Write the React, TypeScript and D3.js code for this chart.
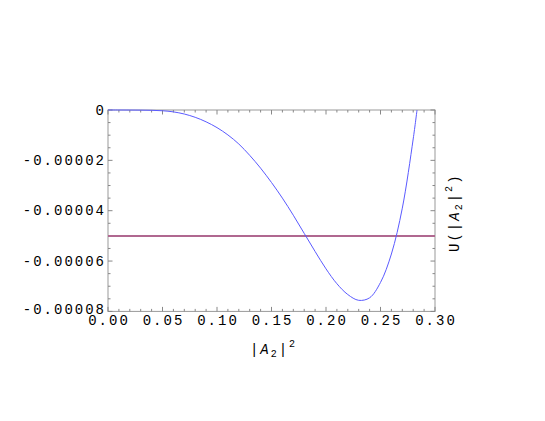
import React, { useEffect, useRef } from 'react';
import * as d3 from 'd3';

// |A2|^2 sample positions and U values
const a2 = [0, 0.01, 0.02, 0.03, 0.04, 0.05, 0.06, 0.07, 0.08, 0.09, 0.1, 0.11, 0.12, 0.13, 0.14,
  0.15, 0.16, 0.17, 0.18, 0.19, 0.2, 0.21, 0.22, 0.23, 0.24, 0.25, 0.26, 0.27, 0.28, 0.2835];
const uVals = [0, 0, -0.00000002, -0.00000005, -0.00000012, -0.0000003, -0.00000075, -0.0000016,
  -0.0000029, -0.0000047, -0.000007, -0.0000099, -0.0000135, -0.000018, -0.0000231,
  -0.0000288, -0.000035, -0.0000418, -0.000049, -0.0000562, -0.0000631, -0.000069,
  -0.0000733, -0.0000756, -0.0000746, -0.0000685, -0.0000572, -0.000039, -0.0000115, 0];
const levelValue = -0.00005;

const xTicks = [0, 0.05, 0.1, 0.15, 0.2, 0.25, 0.3];
const yTicks = [0, -0.00002, -0.00004, -0.00006, -0.00008];
const yTickLabels = ['0', '-0.00002', '-0.00004', '-0.00006', '-0.00008'];

const W = 545;
const H = 421;

const App = () => {
  const ref = useRef<SVGSVGElement>(null);

  useEffect(() => {
    const svg = d3.select(ref.current);
    svg.selectAll('*').remove();

    const left = 108, right = 435, top = 110, bottom = 311.4;
    const x = d3.scaleLinear().domain([0, 0.3]).range([left, right]);
    const y = d3.scaleLinear().domain([-0.00008, 0]).range([bottom, top]);

    const font = '"Liberation Mono", "DejaVu Sans Mono", monospace';
    const frameColor = '#999';

    // frame
    svg.append('rect')
      .attr('x', left).attr('y', top)
      .attr('width', right - left).attr('height', bottom - top)
      .attr('fill', 'none').attr('stroke', frameColor).attr('stroke-width', 1);

    // ticks, pointing inward on all four sides
    const xMinor = d3.range(0, 31).map(i => i / 100);
    const yMinor = d3.range(0, 17).map(i => -i * 0.000005);
    const tickG = svg.append('g').attr('stroke', '#888').attr('stroke-width', 1);
    xMinor.forEach((v, i) => {
      const len = i % 5 === 0 ? 4.5 : 2.5;
      tickG.append('line').attr('x1', x(v)).attr('x2', x(v)).attr('y1', bottom).attr('y2', bottom - len);
      tickG.append('line').attr('x1', x(v)).attr('x2', x(v)).attr('y1', top).attr('y2', top + len);
    });
    yMinor.forEach((v, i) => {
      const len = i % 4 === 0 ? 4.5 : 2.5;
      tickG.append('line').attr('x1', left).attr('x2', left + len).attr('y1', y(v)).attr('y2', y(v));
      tickG.append('line').attr('x1', right).attr('x2', right - len).attr('y1', y(v)).attr('y2', y(v));
    });

    // tick labels
    svg.append('g').selectAll('text').data(xTicks).enter().append('text')
      .attr('x', d => x(d) + 1)
      .attr('y', bottom + 14)
      .attr('text-anchor', 'middle')
      .attr('font-family', font).attr('font-size', 14).attr('letter-spacing', 2)
      .attr('fill', '#000')
      .text(d => d.toFixed(2));

    svg.append('g').selectAll('text').data(yTicks).enter().append('text')
      .attr('x', left - 2)
      .attr('y', (d, i) => y(d) + (i === yTicks.length - 1 ? 3 : 4.5))
      .attr('text-anchor', 'end')
      .attr('font-family', font).attr('font-size', 14).attr('letter-spacing', 2)
      .attr('fill', '#000')
      .text((d, i) => yTickLabels[i]);

    // plot contents, clipped to the frame
    svg.append('clipPath').attr('id', 'plotClip').append('rect')
      .attr('x', left).attr('y', top - 1).attr('width', right - left).attr('height', bottom - top + 2);
    const plot = svg.append('g').attr('clip-path', 'url(#plotClip)');

    plot.append('line')
      .attr('x1', left).attr('x2', right)
      .attr('y1', y(levelValue)).attr('y2', y(levelValue))
      .attr('stroke', '#b06890').attr('stroke-width', 2);

    const pts: [number, number][] = a2.map((v, i) => [v, uVals[i]]);
    const line = d3.line<[number, number]>()
      .x(d => x(d[0]))
      .y(d => y(d[1]))
      .curve(d3.curveCatmullRom.alpha(0.5));
    plot.append('path')
      .attr('d', line(pts))
      .attr('fill', 'none')
      .attr('stroke', '#5a5aff')
      .attr('stroke-width', 1);

    // x axis title |A2|^2
    const xt = svg.append('text')
      .attr('x', (left + right) / 2 + 2)
      .attr('y', 354)
      .attr('text-anchor', 'middle')
      .attr('font-family', font).attr('font-size', 14).attr('letter-spacing', 2)
      .attr('fill', '#000');
    xt.append('tspan').text('|');
    xt.append('tspan').attr('font-style', 'italic').text('A');
    xt.append('tspan').attr('font-size', 10).attr('dy', 3).text('2');
    xt.append('tspan').attr('dy', -3).text('|');
    xt.append('tspan').attr('font-size', 10).attr('dy', -7).text('2');

    // right axis title U(|A2|^2)
    const yt = svg.append('text')
      .attr('transform', `translate(459,${(top + bottom) / 2 + 2}) rotate(-90)`)
      .attr('text-anchor', 'middle')
      .attr('font-family', font).attr('font-size', 14).attr('letter-spacing', 2)
      .attr('fill', '#000');
    yt.append('tspan').text('U(|');
    yt.append('tspan').attr('font-style', 'italic').text('A');
    yt.append('tspan').attr('font-size', 10).attr('dy', 3).text('2');
    yt.append('tspan').attr('dy', -3).text('|');
    yt.append('tspan').attr('font-size', 10).attr('dy', -7).text('2');
    yt.append('tspan').attr('dy', 7).text(')');
  }, []);

  return (
    <svg ref={ref} width={W} height={H}
      style={{ position: 'absolute', left: 0, top: 0, background: '#fff' }} />
  );
};

export default App;
